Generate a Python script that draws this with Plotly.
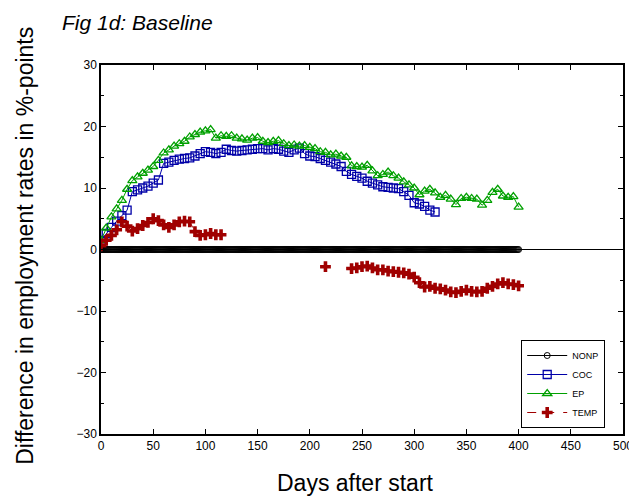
import plotly.graph_objects as go

# ---------------- data ----------------
ep_days = list(range(0, 401, 5))
ep_vals = [1.5, 3.5, 5.3, 6.6, 8.0, 9.8, 11.2, 11.8, 12.4, 12.9,
           13.5, 14.5, 15.7, 16.2, 16.8, 17.2, 17.6, 18.3, 18.7, 19.1,
           19.3, 19.5, 18.1, 18.5, 18.4, 18.5, 18.1, 18.0, 17.8, 18.1,
           18.2, 17.6, 17.4, 17.6, 17.7, 17.2, 16.9, 17.0, 16.8, 16.9,
           16.6, 16.4, 15.9, 15.8, 15.4, 15.5, 15.2, 15.0, 13.6, 13.5,
           13.4, 13.7, 12.8, 12.0, 12.2, 12.6, 12.0, 11.6, 11.0, 10.5,
           10.0, 8.9, 9.5, 9.8, 9.2, 8.5, 8.8, 8.2, 7.3, 8.3,
           8.5, 8.3, 8.2, 7.2, 8.0, 9.3, 9.8, 8.7, 8.5, 8.6,
           6.9]

coc_days = list(range(0, 321, 5))
coc_vals = [1.5, 2.6, 3.6, 4.6, 5.5, 6.4, 9.4, 9.7, 10.0, 10.3,
            10.8, 11.3, 14.0, 14.2, 14.5, 14.7, 14.8, 14.9, 15.2, 15.6,
            15.9, 15.8, 15.6, 15.8, 16.3, 16.1, 16.0, 16.1, 16.2, 16.3,
            16.4, 16.4, 16.2, 16.4, 16.3, 16.0, 15.8, 16.2, 16.5, 15.6,
            15.2, 15.1, 14.8, 14.5, 14.2, 13.9, 13.5, 12.7, 12.2, 11.9,
            11.6, 11.1, 10.8, 10.5, 10.2, 10.1, 10.0, 9.9, 9.4, 8.8,
            7.6, 7.4, 7.0, 6.4, 6.1]

temp_days = (list(range(0, 116, 5)) + [None, 215, None] + list(range(240, 401, 5)))
temp_vals = ([0.6, 1.5, 2.3, 3.2, 4.5, 3.8, 3.0, 3.4, 3.9, 4.4,
              5.0, 4.7, 4.0, 3.6, 4.0, 4.5, 4.6, 4.5, 2.9, 2.3,
              2.4, 2.6, 2.4, 2.4]
             + [None, -2.8, None]
             + [-3.1, -3.0, -2.8, -2.7, -3.0, -3.3, -3.3, -3.5, -3.6, -3.7,
                -3.8, -4.0, -4.5, -5.4, -6.1, -6.0, -6.3, -6.4, -6.6, -6.9,
                -7.0, -6.8, -6.6, -6.8, -6.9, -6.8, -6.3, -6.0, -5.6, -5.4,
                -5.6, -5.7, -5.9])

# NONP is the reference group: zero difference on every day 0..400
nonp_days = list(range(0, 401, 1))
nonp_vals = [0.0] * len(nonp_days)

x_ticks = list(range(0, 501, 50))
y_ticks = list(range(-30, 31, 10))

TFONT = "Liberation Sans, Arial, sans-serif"
NFONT = "Liberation Sans Narrow, Liberation Sans, Arial, sans-serif"

fig = go.Figure()

fig.add_shape(type="line", x0=0, x1=500, y0=0, y1=0, xref="x", yref="y",
              line=dict(color="black", width=1), layer="below")

fig.add_trace(go.Scatter(
    x=nonp_days, y=nonp_vals, name="NONP", mode="lines+markers",
    line=dict(color="black", width=1),
    marker=dict(symbol="circle-open", size=6, color="black", line=dict(width=1))))

fig.add_trace(go.Scatter(
    x=coc_days, y=coc_vals, name="COC", mode="lines+markers",
    line=dict(color="#0000a8", width=1),
    marker=dict(symbol="square-open", size=8, color="#0000a8", line=dict(width=1.3))))

fig.add_trace(go.Scatter(
    x=ep_days, y=ep_vals, name="EP", mode="lines+markers",
    line=dict(color="#00a000", width=1),
    marker=dict(symbol="triangle-up-open", size=8, color="#00a000", line=dict(width=1.3))))

fig.add_trace(go.Scatter(
    x=temp_days, y=temp_vals, name="TEMP", mode="lines+markers",
    line=dict(color="#a00000", width=1, dash="dash"),
    marker=dict(symbol="cross", size=9, color="#a00000", line=dict(width=0))))

axis_common = dict(
    showline=True, linecolor="black", linewidth=1.5, mirror="ticks",
    ticks="inside", ticklen=5, tickcolor="black", tickwidth=1,
    showgrid=False, zeroline=False, automargin=False,
    tickfont=dict(family=TFONT, size=12, color="black"),
)

fig.update_xaxes(range=[0, 500], tickvals=x_ticks, **axis_common)
fig.update_yaxes(range=[-30, 30], tickvals=y_ticks,
                 minor=dict(ticks="inside", ticklen=3, dtick=5, tick0=0, tickcolor="black", showgrid=False),
                 **axis_common)

# the page body adds an 8px margin, so the figure is sized to fill the rest
fig.update_layout(
    width=629, height=494,
    margin=dict(l=93, r=14, t=57, b=68),
    paper_bgcolor="white", plot_bgcolor="white",
    legend=dict(x=0.805, y=0.1355, xanchor="left", yanchor="middle",
                bgcolor="white", bordercolor="black", borderwidth=1,
                font=dict(family=TFONT, size=9, color="black"),
                itemwidth=40, tracegroupgap=0),
    showlegend=True,
    annotations=[
        dict(text="Fig 1d: Baseline", xref="paper", yref="paper",
             x=-0.078, y=1.153, xanchor="left", yanchor="top", showarrow=False,
             font=dict(family=TFONT, size=21, color="black", style="italic")),
        dict(text="Difference in employment rates in %-points", xref="paper", yref="paper",
             x=-0.1456, y=0.51, xanchor="center", yanchor="middle", showarrow=False,
             textangle=-90, font=dict(family=NFONT, size=23, color="black")),
        dict(text="Days after start", xref="paper", yref="paper",
             x=0.4866, y=-0.1328, xanchor="center", yanchor="middle", showarrow=False,
             font=dict(family=NFONT, size=23, color="black")),
    ],
)

fig.write_html("out.html")
